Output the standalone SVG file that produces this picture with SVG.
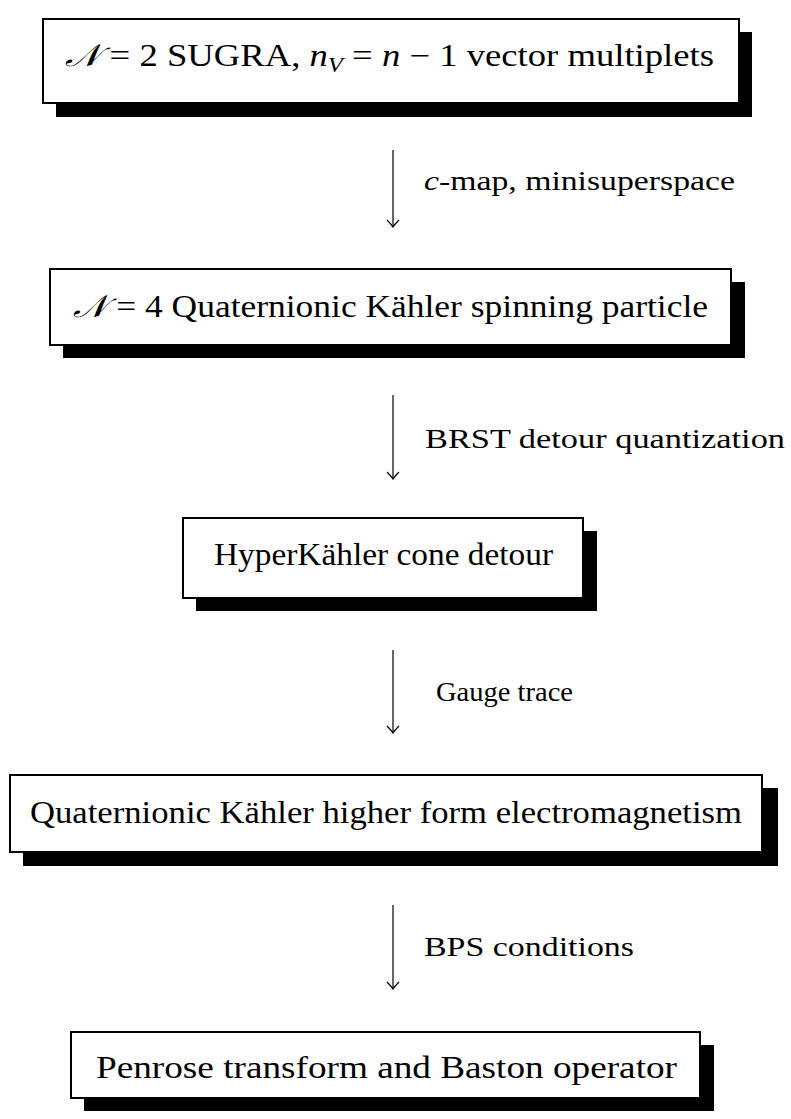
<svg xmlns="http://www.w3.org/2000/svg" width="791" height="1119" viewBox="0 0 791 1119">
<style>
.box{fill:#fff;stroke:#000;stroke-width:2}
.sh{fill:#000}
.t{font-family:"Liberation Serif","DejaVu Serif",serif;font-size:31px;fill:#000}
.l{font-family:"Liberation Serif","DejaVu Serif",serif;font-size:28px;fill:#000}
.i{font-style:italic}
.ar{fill:none;stroke:#000;stroke-width:1.2}
</style>
<defs>
<marker id="hd" viewBox="-9 -7 11 14" markerWidth="11" markerHeight="14" refX="0" refY="0" markerUnits="userSpaceOnUse" orient="auto">
<path d="M-7,-6 Q-2,-1.2 0,0 Q-2,1.2 -7,6" fill="none" stroke="#000" stroke-width="1.2"/>
</marker>
</defs>
<g id="n1">
<rect class="sh" x="56" y="32" width="696" height="85"/>
<rect class="box" x="43" y="19" width="696" height="84"/>
<text class="t" x="65" y="66" textLength="649" lengthAdjust="spacingAndGlyphs"><tspan class="i">𝒩</tspan> = 2 SUGRA, <tspan class="i">n</tspan><tspan class="i" font-size="21" dy="6">V</tspan><tspan dy="-6"> = </tspan><tspan class="i">n</tspan> − 1 vector multiplets</text>
</g>
<g id="n2">
<rect class="sh" x="63" y="282" width="682" height="76"/>
<rect class="box" x="50" y="269" width="681" height="76"/>
<text class="t" x="73" y="317" textLength="635" lengthAdjust="spacingAndGlyphs"><tspan class="i">𝒩</tspan> = 4 Quaternionic Kähler spinning particle</text>
</g>
<g id="n3">
<rect class="sh" x="196" y="531" width="401" height="80"/>
<rect class="box" x="183" y="518" width="400" height="80"/>
<text class="t" x="214" y="565" textLength="339" lengthAdjust="spacingAndGlyphs">HyperKähler cone detour</text>
</g>
<g id="n4">
<rect class="sh" x="23" y="788" width="755" height="78"/>
<rect class="box" x="10" y="775" width="752" height="77"/>
<text class="t" x="30" y="823" textLength="712" lengthAdjust="spacingAndGlyphs">Quaternionic Kähler higher form electromagnetism</text>
</g>
<g id="n5">
<rect class="sh" x="84" y="1045" width="630" height="66"/>
<rect class="box" x="71" y="1032" width="629" height="66"/>
<text class="t" x="96" y="1078" textLength="581" lengthAdjust="spacingAndGlyphs">Penrose transform and Baston operator</text>
</g>
<g id="edges">
<line class="ar" x1="393" y1="150" x2="393" y2="227" marker-end="url(#hd)"/>
<line class="ar" x1="393" y1="395" x2="393" y2="479" marker-end="url(#hd)"/>
<line class="ar" x1="393" y1="650" x2="393" y2="733" marker-end="url(#hd)"/>
<line class="ar" x1="393" y1="905" x2="393" y2="989" marker-end="url(#hd)"/>
<text class="l" x="424" y="190" textLength="311" lengthAdjust="spacingAndGlyphs"><tspan class="i">c</tspan>-map, minisuperspace</text>
<text class="l" x="425" y="448" textLength="360" lengthAdjust="spacingAndGlyphs">BRST detour quantization</text>
<text class="l" x="436" y="701" textLength="137" lengthAdjust="spacingAndGlyphs">Gauge trace</text>
<text class="l" x="424" y="956" textLength="210" lengthAdjust="spacingAndGlyphs">BPS conditions</text>
</g>
</svg>
